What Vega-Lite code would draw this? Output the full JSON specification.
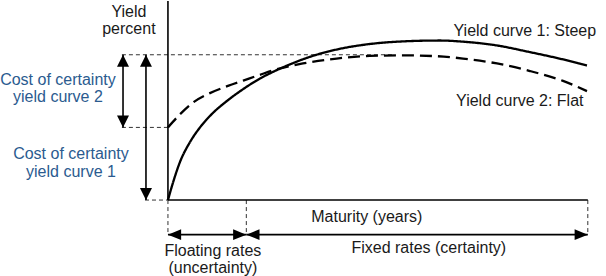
{
  "$schema": "https://vega.github.io/schema/vega-lite/v6.json",
  "width": 606,
  "height": 276,
  "autosize": {"type": "fit", "contains": "padding"},
  "padding": 0,
  "background": "white",
  "config": {"view": {"stroke": null}},
  "datasets": {
    "curves": [
      {"maturity": 0, "yield": 0, "curve": "Steep"},
      {"maturity": 0.38, "yield": 0.63, "curve": "Steep"},
      {"maturity": 0.86, "yield": 1.31, "curve": "Steep"},
      {"maturity": 1.57, "yield": 1.99, "curve": "Steep"},
      {"maturity": 2.29, "yield": 2.5, "curve": "Steep"},
      {"maturity": 3.24, "yield": 3.01, "curve": "Steep"},
      {"maturity": 4.19, "yield": 3.4, "curve": "Steep"},
      {"maturity": 5.38, "yield": 3.82, "curve": "Steep"},
      {"maturity": 6.57, "yield": 4.18, "curve": "Steep"},
      {"maturity": 7.77, "yield": 4.47, "curve": "Steep"},
      {"maturity": 8.72, "yield": 4.67, "curve": "Steep"},
      {"maturity": 10.15, "yield": 4.93, "curve": "Steep"},
      {"maturity": 12.05, "yield": 5.18, "curve": "Steep"},
      {"maturity": 14.43, "yield": 5.37, "curve": "Steep"},
      {"maturity": 16.79, "yield": 5.46, "curve": "Steep"},
      {"maturity": 19.44, "yield": 5.49, "curve": "Steep"},
      {"maturity": 21.08, "yield": 5.45, "curve": "Steep"},
      {"maturity": 23.51, "yield": 5.32, "curve": "Steep"},
      {"maturity": 25.87, "yield": 5.09, "curve": "Steep"},
      {"maturity": 28.23, "yield": 4.84, "curve": "Steep"},
      {"maturity": 29.94, "yield": 4.63, "curve": "Steep"},
      {"maturity": 0, "yield": 2.5, "curve": "Flat"},
      {"maturity": 0.86, "yield": 2.95, "curve": "Flat"},
      {"maturity": 1.81, "yield": 3.36, "curve": "Flat"},
      {"maturity": 3.0, "yield": 3.68, "curve": "Flat"},
      {"maturity": 4.19, "yield": 3.91, "curve": "Flat"},
      {"maturity": 5.38, "yield": 4.11, "curve": "Flat"},
      {"maturity": 6.57, "yield": 4.31, "curve": "Flat"},
      {"maturity": 7.77, "yield": 4.5, "curve": "Flat"},
      {"maturity": 9.65, "yield": 4.7, "curve": "Flat"},
      {"maturity": 12.05, "yield": 4.87, "curve": "Flat"},
      {"maturity": 14.43, "yield": 4.96, "curve": "Flat"},
      {"maturity": 16.79, "yield": 4.98, "curve": "Flat"},
      {"maturity": 19.22, "yield": 4.95, "curve": "Flat"},
      {"maturity": 21.08, "yield": 4.87, "curve": "Flat"},
      {"maturity": 23.51, "yield": 4.7, "curve": "Flat"},
      {"maturity": 25.87, "yield": 4.44, "curve": "Flat"},
      {"maturity": 28.23, "yield": 4.1, "curve": "Flat"},
      {"maturity": 29.94, "yield": 3.75, "curve": "Flat"}
    ],
    "segments": [
      {"x": 0, "y": 0, "x2": 0, "y2": 6.85, "style": "axis"},
      {"x": 0, "y": 0, "x2": 30, "y2": 0, "style": "axis"},
      {"x": -3.29, "y": 5, "x2": 16, "y2": 5, "style": "guide"},
      {"x": -3.29, "y": 2.5, "x2": 0, "y2": 2.5, "style": "guide"},
      {"x": -1.64, "y": 0, "x2": 0, "y2": 0, "style": "guide"},
      {"x": 0, "y": 0, "x2": 0, "y2": -1.2, "style": "guide"},
      {"x": 5.6, "y": 0, "x2": 5.6, "y2": -1.2, "style": "guide"},
      {"x": 30, "y": 0, "x2": 30, "y2": -1.2, "style": "guide"},
      {"x": -1.57, "y": 0, "x2": -1.57, "y2": 5, "style": "arrow"},
      {"x": -3.21, "y": 2.5, "x2": -3.21, "y2": 5, "style": "arrow"},
      {"x": 0, "y": -1.19, "x2": 5.6, "y2": -1.19, "style": "arrow"},
      {"x": 5.6, "y": -1.19, "x2": 30, "y2": -1.19, "style": "arrow"}
    ],
    "heads": [
      {"x": -1.57, "y": 5, "dir": "up"},
      {"x": -1.57, "y": 0, "dir": "down"},
      {"x": -3.21, "y": 5, "dir": "up"},
      {"x": -3.21, "y": 2.5, "dir": "down"},
      {"x": 0, "y": -1.19, "dir": "left"},
      {"x": 5.6, "y": -1.19, "dir": "right"},
      {"x": 5.6, "y": -1.19, "dir": "left"},
      {"x": 30, "y": -1.19, "dir": "right"}
    ],
    "labels": [
      {"x": -2.79, "y": 6.29, "text": "Yield", "group": "plain"},
      {"x": -2.79, "y": 5.73, "text": "percent", "group": "plain"},
      {"x": -7.86, "y": 3.97, "text": "Cost of certainty", "group": "cost"},
      {"x": -7.86, "y": 3.36, "text": "yield curve 2", "group": "cost"},
      {"x": -6.93, "y": 1.42, "text": "Cost of certainty", "group": "cost"},
      {"x": -6.93, "y": 0.81, "text": "yield curve 1", "group": "cost"},
      {"x": 14.21, "y": -0.75, "text": "Maturity (years)", "group": "plain"},
      {"x": 3.21, "y": -1.93, "text": "Floating rates", "group": "plain"},
      {"x": 3.21, "y": -2.51, "text": "(uncertainty)", "group": "plain"},
      {"x": 18.64, "y": -1.83, "text": "Fixed rates (certainty)", "group": "plain"},
      {"x": 25.5, "y": 5.63, "text": "Yield curve 1: Steep", "group": "plain"},
      {"x": 25.14, "y": 3.25, "text": "Yield curve 2: Flat", "group": "plain"}
    ]
  },
  "encoding": {},
  "layer": [
    {
      "data": {"name": "segments"},
      "transform": [{"filter": "datum.style === 'guide'"}],
      "mark": {"type": "rule", "color": "#333333", "strokeWidth": 1, "strokeDash": [4, 3]},
      "encoding": {
        "x": {"field": "x", "type": "quantitative", "scale": {"domain": [-12, 31.3], "nice": false, "zero": false}, "axis": null},
        "y": {"field": "y", "type": "quantitative", "scale": {"domain": [-2.51, 6.85], "nice": false, "zero": false}, "axis": null},
        "x2": {"field": "x2"},
        "y2": {"field": "y2"}
      }
    },
    {
      "data": {"name": "segments"},
      "transform": [{"filter": "datum.style !== 'guide'"}],
      "mark": {"type": "rule", "color": "#000000", "strokeWidth": 1.6},
      "encoding": {
        "x": {"field": "x", "type": "quantitative", "axis": null},
        "y": {"field": "y", "type": "quantitative", "axis": null},
        "x2": {"field": "x2"},
        "y2": {"field": "y2"}
      }
    },
    {
      "data": {"name": "curves"},
      "mark": {"type": "line", "color": "#000000", "strokeWidth": 2.3, "interpolate": "monotone"},
      "encoding": {
        "x": {"field": "maturity", "type": "quantitative", "axis": null},
        "y": {"field": "yield", "type": "quantitative", "axis": null},
        "detail": {"field": "curve"},
        "strokeDash": {
          "field": "curve",
          "type": "nominal",
          "scale": {"domain": ["Steep", "Flat"], "range": [[1, 0], [12, 6]]},
          "legend": null
        }
      }
    },
    {
      "data": {"name": "heads"},
      "mark": {"type": "point", "filled": true, "color": "#000000", "opacity": 1, "size": 36, "strokeWidth": 0},
      "encoding": {
        "x": {"field": "x", "type": "quantitative", "axis": null},
        "y": {"field": "y", "type": "quantitative", "axis": null},
        "shape": {
          "field": "dir",
          "type": "nominal",
          "scale": {
            "domain": ["up", "down", "left", "right"],
            "range": ["M0,0L-2,4L2,4Z", "M0,0L-2,-4L2,-4Z", "M0,0L4.4,-1.8L4.4,1.8Z", "M0,0L-4.4,-1.8L-4.4,1.8Z"]
          },
          "legend": null
        }
      }
    },
    {
      "data": {"name": "labels"},
      "mark": {"type": "text", "font": "Liberation Sans", "fontSize": 16, "align": "center", "baseline": "alphabetic"},
      "encoding": {
        "x": {"field": "x", "type": "quantitative", "axis": null},
        "y": {"field": "y", "type": "quantitative", "axis": null},
        "text": {"field": "text"},
        "color": {
          "field": "group",
          "type": "nominal",
          "scale": {"domain": ["plain", "cost"], "range": ["#1a1a1a", "#2b5b8f"]},
          "legend": null
        }
      }
    }
  ]
}
